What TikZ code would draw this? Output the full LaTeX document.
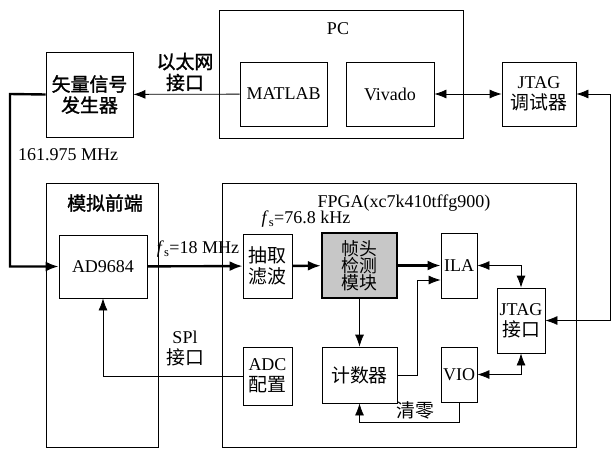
\documentclass[tikz,border=0pt]{standalone}
\usepackage{fontspec}
\setmainfont{Liberation Serif}
\newfontfamily\cjk[Scale=1.05]{Noto Sans CJK SC}
\newfontfamily\cjkb[Scale=1.05,FakeBold=1.5]{Noto Sans CJK SC}
\usetikzlibrary{arrows.meta}

\begin{document}
\begin{tikzpicture}
[x=1pt, y=-1pt, font=\fontsize{18}{21}\selectfont]
\tikzstyle{block}=[draw, line width=0.8pt, inner sep=0pt, align=center]
\tikzstyle{txt}=[inner sep=0pt, align=center]
\tikzstyle{link}=[line width=0.8pt, -{Latex[length=12pt,width=9pt]}]
\tikzstyle{dlink}=[line width=0.8pt, {Latex[length=12pt,width=9pt]}-{Latex[length=12pt,width=9pt]}]
\tikzstyle{bus}=[line width=2.4pt, -{Latex[length=13pt,width=10pt]}]
\useasboundingbox (0,0) rectangle (612,450);

% PC side
\node[block, minimum width=244, minimum height=128]	(pc)	at (341,74)	{};
\node[txt]	(pclab)	at (338,29)	{PC};
\node[block, minimum width=87, minimum height=64]	(matlab)	at (283.5,94)	{MATLAB};
\node[block, minimum width=88, minimum height=64]	(vivado)	at (390,94)	{Vivado};
\node[block, minimum width=74, minimum height=64]	(jtagdbg)	at (539,94)	{JTAG\\{\cjk 调试器}};
\node[block, minimum width=87, minimum height=85]	(vsg)	at (89.5,94.5)	{\cjkb 矢量信号\\\cjkb 发生器};

% analog front end
\node[block, minimum width=112, minimum height=264]	(afe)	at (102,315)	{};
\node[txt]	(afelab)	at (105,203)	{\cjkb 模拟前端};
\node[block, minimum width=88, minimum height=63]	(ad)	at (103,266.5)	{AD9684};

% FPGA
\node[block, minimum width=354, minimum height=264]	(fpga)	at (399,315)	{};
\node[txt]	(fpgalab)	at (404,203)	{FPGA(xc7k410tffg900)};
\node[block, minimum width=49, minimum height=64]	(dec)	at (267.5,266)	{\cjk 抽取\\\cjk 滤波};
\node[block, minimum width=75, minimum height=65, line width=2.4pt, fill=black!22,
      font=\fontsize{17}{17}\selectfont]	(fhd)	at (359.5,265.5)	{\cjk 帧头\\\cjk 检测\\\cjk 模块};
\node[block, minimum width=36, minimum height=65]	(ila)	at (459,265.5)	{ILA};
\node[block, minimum width=48, minimum height=65]	(jtagif)	at (521,320.5)	{JTAG\\{\cjk 接口}};
\node[block, minimum width=36, minimum height=55]	(vio)	at (459,374.5)	{VIO};
\node[block, minimum width=75, minimum height=56]	(cnt)	at (359.5,375)	{\cjk 计数器};
\node[block, minimum width=49, minimum height=58]	(adc)	at (267.5,376)	{ADC\\{\cjk 配置}};

% labels on links
\node[txt]	(ethlab)	at (185,72)	{\cjkb 以太网\\\cjkb 接口};
\node[txt]	(rflab)	at (68,155)	{161.975 MHz};
\node[txt]	(fs1)	at (198,249)	{\textit{f}\textsubscript{s}=18 MHz};
\node[txt]	(fs2)	at (306,219)	{\textit{f}\textsubscript{s}=76.8 kHz};
\node[txt]	(spilab)	at (185,349)	{SPl\\{\cjk 接口}};
\node[txt]	(clrlab)	at (415,410)	{\cjk 清零};

\coordinate (lbend) at (10,94);
\coordinate (rbend) at (610,200);
\coordinate (cbend) at (417,280);
\coordinate (clr) at (459,422);

\draw [link] (matlab) -- (vsg);
\draw [dlink] (vivado) -- (jtagdbg);
\draw [dlink] (jtagif.east) -| (rbend) |- (jtagdbg.east);
\draw [bus] (vsg.west) -- (lbend) |- (ad.west);
\draw [bus] (ad) -- (dec);
\draw [bus] (dec) -- (fhd);
\draw [bus] (fhd) -- (ila);
\draw [link] (fhd) -- (cnt);
\draw [link] (cnt.east) -| (cbend) -- (cbend -| ila.west);
\draw [dlink] (ila.east) -| (jtagif.north);
\draw [dlink] (vio.east) -| (jtagif.south);
\draw [link] (vio.south) -- (clr) -| (cnt.south);
\draw [link] (adc.west) -| (ad.south);
\end{tikzpicture}
\end{document}
